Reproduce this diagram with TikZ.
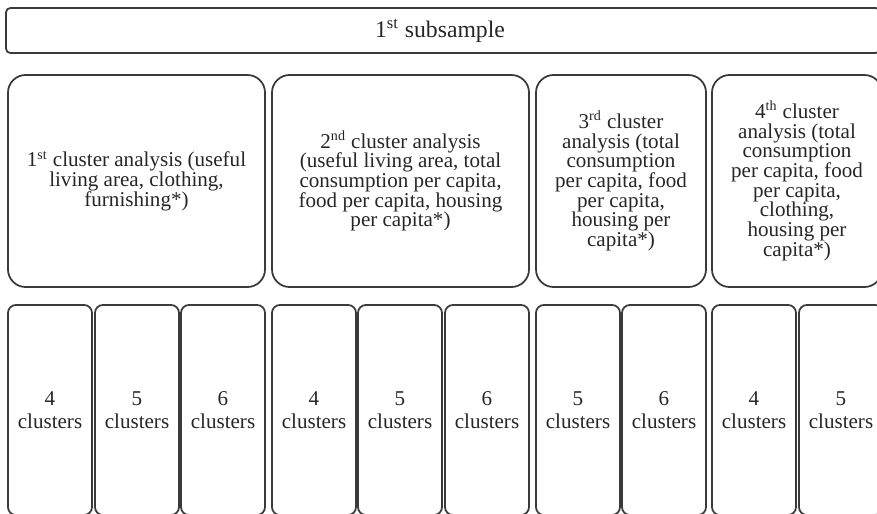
\documentclass[tikz,border=0pt]{standalone}
\usepackage{fontspec}
\setmainfont{Liberation Serif}
\definecolor{edgegray}{HTML}{3A3A3A}
\def\pxu{0.02cm}

\begin{document}
\begin{tikzpicture}[
  x=0.02cm, y=-0.02cm,
  base/.style={
    draw=edgegray, line width=1pt, rectangle, anchor=north west,
    align=center, inner sep=2pt, outer sep=0pt, text=black!85,
    font=\fontsize{12}{11.2}\selectfont
  },
  headbox/.style={
    base, rounded corners=2.5pt, minimum height=45*\pxu
  },
  analysisbox/.style={
    base, rounded corners=10pt, minimum height=212*\pxu
  },
  clusterbox/.style={
    base, rounded corners=4.5pt, font=\fontsize{12}{13}\selectfont,
    minimum width=84*\pxu, minimum height=210*\pxu
  },
]

\clip (0,0) rectangle (877,514);

\node[headbox, minimum width=874*\pxu, font=\fontsize{13.5}{14}\selectfont] (sub) at (6,8) {
  1\textsuperscript{st} subsample
};

\node[analysisbox, minimum width=257*\pxu] (ca1) at (8,75) {
  1\textsuperscript{st} cluster analysis (useful\\
  living area, clothing,\\
  furnishing*)
};
\node[analysisbox, minimum width=257*\pxu] (ca2) at (272,75) {
  2\textsuperscript{nd} cluster analysis\\
  (useful living area, total\\
  consumption per capita,\\
  food per capita, housing\\
  per capita*)
};
\node[analysisbox, minimum width=170*\pxu] (ca3) at (536,75) {
  3\textsuperscript{rd} cluster\\
  analysis (total\\
  consumption\\
  per capita, food\\
  per capita,\\
  housing per\\
  capita*)
};
\node[analysisbox, minimum width=170*\pxu] (ca4) at (712,75) {
  4\textsuperscript{th} cluster\\
  analysis (total\\
  consumption\\
  per capita, food\\
  per capita,\\
  clothing,\\
  housing per\\
  capita*)
};

% one column per solution
\foreach \xl/\k [count=\i] in {8/4, 95/5, 181/6, 272/4, 358/5, 445/6, 536/5, 622/6, 712/4, 799/5}
  \node[clusterbox] (k\i) at (\xl,305) {\k\\clusters};

\end{tikzpicture}
\end{document}
